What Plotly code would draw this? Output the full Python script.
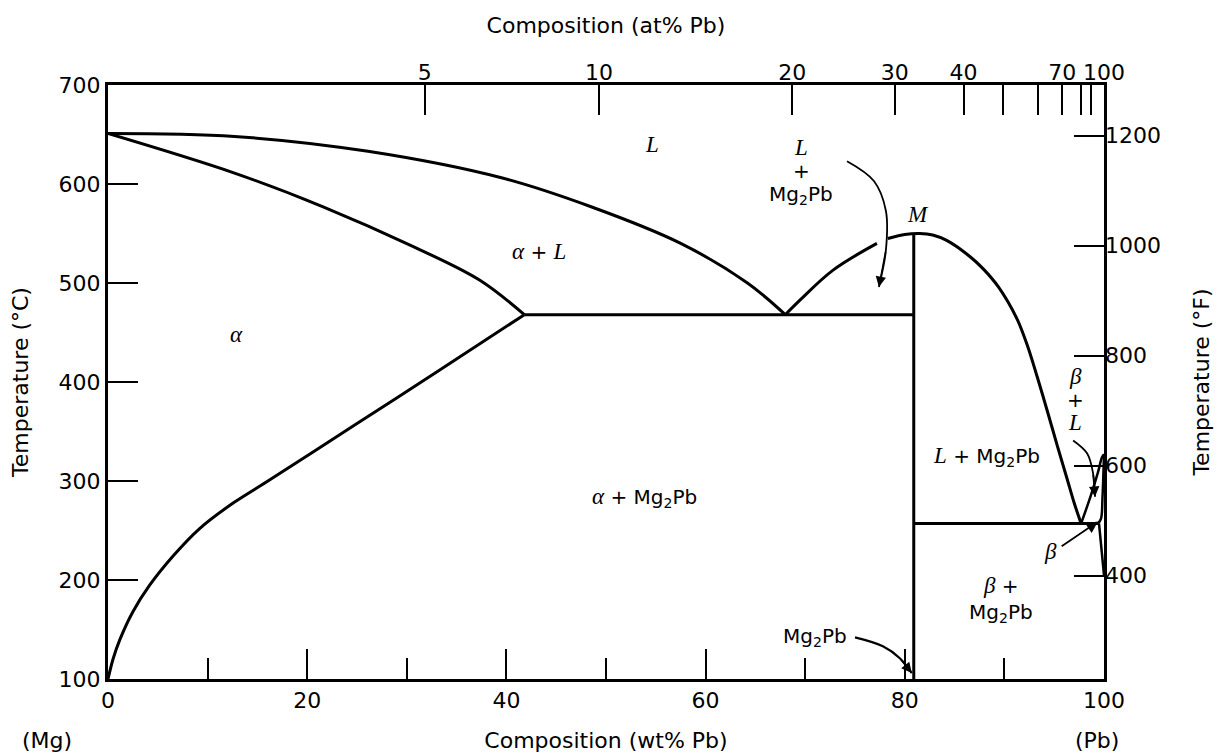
import plotly.graph_objects as go

# ---------------- data (wt% Pb, temperature in deg C) ----------------
liq_mg_wt = [0, 12.7, 26.1, 39.6, 48.5, 57.5, 64.2, 68.0]
liq_mg_T = [651, 648, 633, 606, 577, 540, 500, 468]

sol_alpha_wt = [0, 12.7, 21.6, 30.6, 37.3, 41.8]
sol_alpha_T = [651, 611, 577, 537, 503, 468]

solvus_alpha_wt = [0, 0.5, 1.2, 2.5, 4.2, 6.6, 9.2, 12.6, 15.9, 25.0, 33.0, 41.8]
solvus_alpha_T = [100, 120, 140, 168, 195, 225, 252, 278, 299, 358, 410, 468]

eut1_wt = [41.8, 80.9]
eut1_T = [468, 468]

liq_cmp_left_wt = [68.0, 69.5, 72.8, 77.2]
liq_cmp_left_T = [468, 483, 513, 540]

liq_cmp_right_wt = [78.3, 80.0, 81.5, 82.8, 84.2, 86.5, 87.9, 89.4, 91.3, 92.3, 93.3, 94.3, 95.3, 96.3, 97.0, 97.7]
liq_cmp_right_T = [545, 549, 550, 548.5, 543, 527, 514, 496, 463, 437, 405, 371, 336, 302, 278, 257]

mg2pb_wt = [80.9, 80.9]
mg2pb_T = [100, 550]

eut2_wt = [80.9, 99.4]
eut2_T = [257, 257]

liq_pb_wt = [97.7, 98.7, 99.4, 99.8, 100]
liq_pb_T = [257, 286, 309, 324, 327]

sol_pb_wt = [99.4, 99.7, 99.85, 100]
sol_pb_T = [257, 262, 284, 327]

solvus_pb_wt = [99.5, 99.75, 100]
solvus_pb_T = [257, 230, 205]

# curved pointer arrows (wt%, degC)
arr_L_wt = [74.2, 76.9, 78.1, 78.1, 77.4]
arr_L_T = [623, 603, 573, 533, 496]
arr_bL_wt = [96.9, 98.3, 98.9, 99.1]
arr_bL_T = [341, 328, 308, 284]
arr_cmp_wt = [75.0, 77.8, 79.5, 80.7]
arr_cmp_T = [142, 133, 121, 106]
arr_b_wt = [95.6, 99.4]
arr_b_T = [233, 259]

# axes
T_ticks_C = [100, 200, 300, 400, 500, 600, 700]
T_ticks_F = [400, 600, 800, 1000, 1200]
at_tick_pos_wt = [31.8, 49.3, 68.7, 79.0, 85.9, 95.8, 100]
at_tick_text = ["5", "10", "20", "30", "40", "70", "100"]
at_minor_pos_wt = [89.9, 93.4, 97.7, 98.7]

# region labels (wt%, degC, text)
SER = 'font-family:Liberation Serif;font-style:italic;font-size:23px'
def it(s):
    return f'<span style="{SER}">{s}</span>'
MG2PB = "Mg<sub>2</sub>Pb"
labels = [
    (54.6, 640, it("L")),
    (69.6, 637, it("L")),
    (69.6, 613, "+"),
    (69.6, 589, MG2PB),
    (81.3, 569, it("M")),
    (43.3, 532, it("α") + " + " + it("L")),
    (12.9, 448, it("α")),
    (53.9, 283, it("α") + " + " + MG2PB),
    (88.2, 325, it("L") + " + " + MG2PB),
    (97.1, 406, it("β")),
    (97.1, 382, "+"),
    (97.1, 359, it("L")),
    (94.6, 229, it("β")),
    (89.7, 194, it("β") + " +"),
    (89.7, 167, MG2PB),
    (71.0, 142, MG2PB),
]

FONT = "DejaVu Sans"
FS = 22

fig = go.Figure()

def add_line(xs, ys, shape="spline", width=3, smoothing=1.0):
    fig.add_trace(go.Scatter(x=xs, y=ys, mode="lines",
                             line=dict(color="black", width=width, shape=shape, smoothing=smoothing),
                             hoverinfo="skip", showlegend=False))

add_line(liq_mg_wt, liq_mg_T)
add_line(sol_alpha_wt, sol_alpha_T)
add_line(solvus_alpha_wt, solvus_alpha_T, smoothing=0.8)
add_line(eut1_wt, eut1_T, "linear")
add_line(liq_cmp_left_wt, liq_cmp_left_T)
add_line(liq_cmp_right_wt, liq_cmp_right_T, smoothing=0.8)
add_line(mg2pb_wt, mg2pb_T, "linear")
add_line(eut2_wt, eut2_T, "linear")
add_line(liq_pb_wt, liq_pb_T, width=2.5)
add_line(sol_pb_wt, sol_pb_T, width=2.5)
add_line(solvus_pb_wt, solvus_pb_T, "linear", width=2.5)

# arrow shafts
add_line(arr_L_wt, arr_L_T, width=1.8)
add_line(arr_bL_wt, arr_bL_T, width=1.8)
add_line(arr_cmp_wt, arr_cmp_T, width=2.2)

# dummy trace to anchor the secondary axes
fig.add_trace(go.Scatter(x=[0, 100], y=[212, 1292], xaxis="x2", yaxis="y2",
                         mode="markers", marker=dict(opacity=0), hoverinfo="skip",
                         showlegend=False))

def head(xs, ys, width=1.6):
    fig.add_annotation(x=xs[-1], y=ys[-1], ax=xs[-2], ay=ys[-2],
                       xref="x", yref="y", axref="x", ayref="y",
                       text="", showarrow=True, arrowhead=2, arrowsize=1.3,
                       arrowwidth=width, arrowcolor="black")

head(arr_L_wt, arr_L_T)
head(arr_bL_wt, arr_bL_T)
head(arr_cmp_wt, arr_cmp_T)
head(arr_b_wt, arr_b_T, 1.8)

for x, y, t in labels:
    fig.add_annotation(x=x, y=y, xref="x", yref="y", text=t, showarrow=False,
                       font=dict(family=FONT, size=20, color="black"))

tickfont = dict(family=FONT, size=FS, color="black")

# end labels under the bottom axis
fig.add_annotation(x=-0.061, y=-0.103, xref="paper", yref="paper", text="(Mg)", showarrow=False,
                   font=tickfont, xanchor="center", yanchor="middle")
fig.add_annotation(x=0.993, y=-0.103, xref="paper", yref="paper", text="(Pb)", showarrow=False,
                   font=tickfont, xanchor="center", yanchor="middle")

# page body adds an 8 px offset; figure is sized so the plot lands where the reference has it
fig.update_layout(
    width=1216, height=745,
    margin=dict(l=100, r=120, t=77, b=74, autoexpand=False),
    paper_bgcolor="white", plot_bgcolor="white",
    font=dict(family=FONT, size=FS, color="black"),
    xaxis=dict(range=[0, 100], tickvals=[0, 20, 40, 60, 80, 100], automargin=False,
               ticks="inside", ticklen=30, tickwidth=1.5, tickcolor="black",
               minor=dict(tickvals=[10, 30, 50, 70, 90], ticks="inside", ticklen=21,
                          tickwidth=1.5, tickcolor="black"),
               showline=True, linewidth=3, linecolor="black", mirror=True,
               showgrid=False, zeroline=False, tickfont=tickfont,
               title=dict(text="Composition (wt% Pb)", font=tickfont, standoff=23)),
    yaxis=dict(range=[100, 700], tickvals=T_ticks_C, automargin=False,
               ticks="inside", ticklen=30, tickwidth=1.5, tickcolor="black",
               showline=True, linewidth=3, linecolor="black", mirror=True,
               showgrid=False, zeroline=False, tickfont=tickfont,
               title=dict(text="Temperature (°C)", font=tickfont, standoff=38)),
    xaxis2=dict(range=[0, 100], overlaying="x", side="top", automargin=False,
                tickvals=at_tick_pos_wt, ticktext=at_tick_text,
                ticks="inside", ticklen=30, tickwidth=1.5, tickcolor="black",
                minor=dict(tickvals=at_minor_pos_wt, ticks="inside", ticklen=30,
                           tickwidth=1.5, tickcolor="black"),
                showline=False, showgrid=False, zeroline=False, tickfont=tickfont,
                title=dict(text="Composition (at% Pb)", font=tickfont, standoff=19)),
    yaxis2=dict(range=[212, 1292], overlaying="y", side="right", automargin=False,
                tickvals=T_ticks_F,
                ticks="inside", ticklen=30, tickwidth=1.5, tickcolor="black",
                showline=False, showgrid=False, zeroline=False, tickfont=tickfont,
                title=dict(text="Temperature (°F)", font=tickfont, standoff=33)),
)

fig.write_html("out.html")
